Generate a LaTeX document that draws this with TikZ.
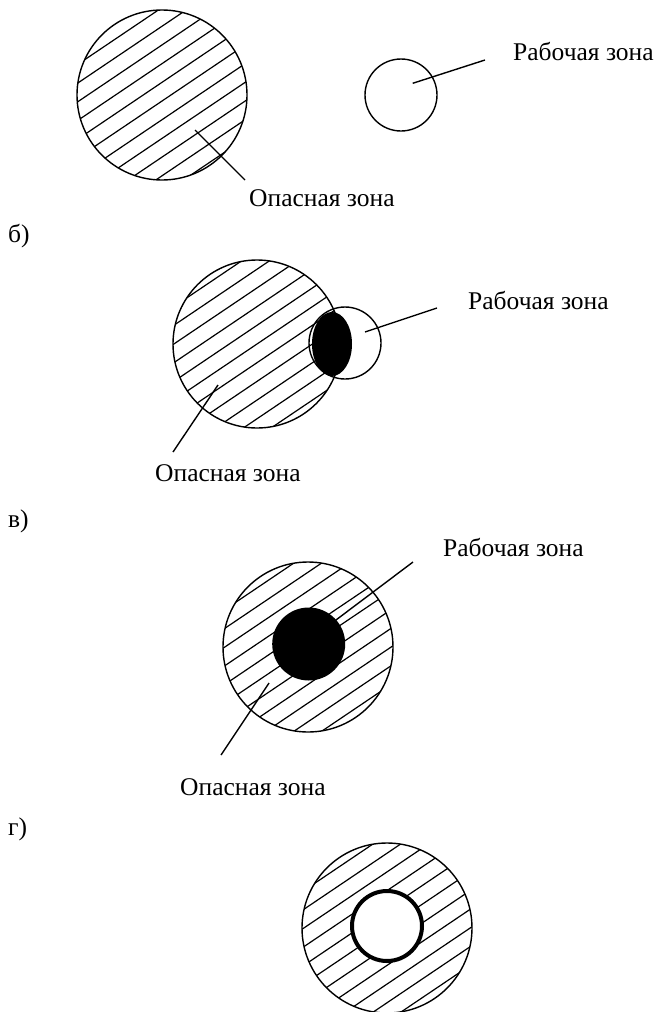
\documentclass[tikz,border=0pt]{standalone}
\usepackage{fontspec}
\setmainfont{Liberation Serif}
\tikzset{
  zone/.style={line width=1.4pt},
  hatchline/.style={line width=1.2pt},
  leader/.style={line width=1.4pt},
  lbl/.style={anchor=base west, inner sep=0pt, font=\fontsize{25.5}{30}\selectfont},
}
\newcommand{\hatchdisk}[4]{% cx, cy, r, phase
  \begin{scope}[shift={(#1,#2)}]
    \clip (0,0) circle (#3);
    \foreach \k in {-7,...,7}{
      \pgfmathsetmacro{\d}{#4+15.5*\k}
      \draw[hatchline] ({\d*0.559-110*0.829},{\d*0.829+110*0.559}) -- ({\d*0.559+110*0.829},{\d*0.829-110*0.559});
    }
  \end{scope}
}
\begin{document}
\begin{tikzpicture}[x=1pt,y=-1pt]
\useasboundingbox (0,0) rectangle (664,1012);
% ---------- panel a ----------
\hatchdisk{162}{95}{85}{5}
\draw[zone] (162,95) circle (85);
\draw[zone] (401,95) circle (36);
\coordinate (a-w1) at (412.7,83.3);
\coordinate (a-w2) at (485,60);
\node[lbl] (a-work) at (513,60) {Рабочая зона};
\draw[leader] (a-w1) -- (a-w2);
\coordinate (a-d1) at (195,130);
\coordinate (a-d2) at (245,180);
\node[lbl] (a-danger) at (249,206) {Опасная зона};
\draw[leader] (a-d1) -- (a-d2);
% ---------- panel b ----------
\node[lbl] (lb) at (8,242) {б)};
\hatchdisk{257}{344}{84}{0}
\draw[zone] (257,344) circle (84);
\fill (332,344) ellipse (20 and 32);
\draw[zone] (345,343) circle (36);
\coordinate (b-w1) at (365,332);
\coordinate (b-w2) at (437,308);
\node[lbl] (b-work) at (468,309) {Рабочая зона};
\draw[leader] (b-w1) -- (b-w2);
\coordinate (b-d1) at (218,385);
\coordinate (b-d2) at (173,452);
\node[lbl] (b-danger) at (155,481) {Опасная зона};
\draw[leader] (b-d1) -- (b-d2);
% ---------- panel c ----------
\node[lbl] (lc) at (8,527) {в)};
\hatchdisk{308}{647}{85}{0}
\draw[zone] (308,647) circle (85);
\coordinate (c-w1) at (320,632);
\coordinate (c-w2) at (413,562);
\draw[leader] (c-w1) -- (c-w2);
\fill (308.7,644) circle (36.5);
\node[lbl] (c-work) at (443,556) {Рабочая зона};
\coordinate (c-d1) at (269,683);
\coordinate (c-d2) at (221,755);
\node[lbl] (c-danger) at (180,795) {Опасная зона};
\draw[leader] (c-d1) -- (c-d2);
% ---------- panel d ----------
\node[lbl] (ld) at (8,835) {г)};
\hatchdisk{387}{928}{85}{0}
\draw[zone] (387,928) circle (85);
\fill[white] (387,926) circle (35);
\draw[line width=4pt] (387,926) circle (35);
\end{tikzpicture}
\end{document}
